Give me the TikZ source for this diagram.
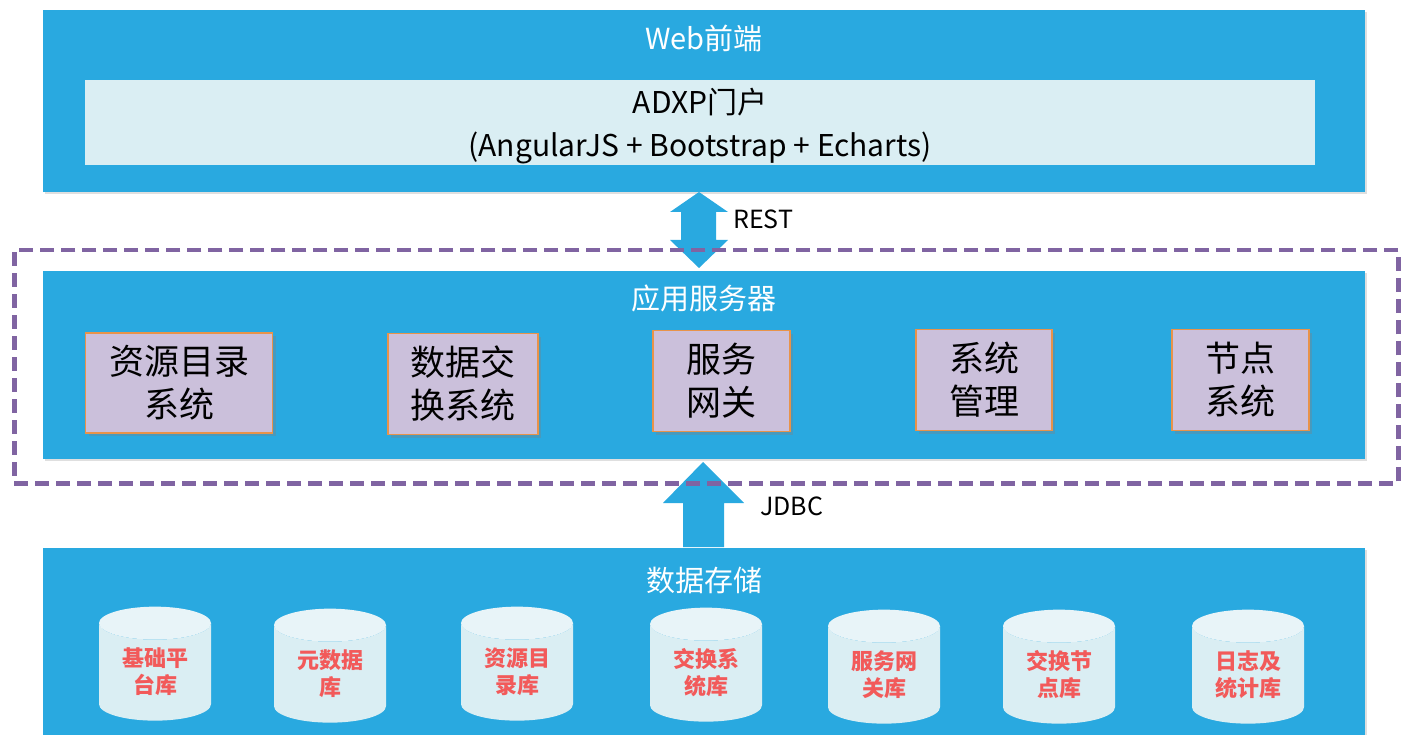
\documentclass[tikz,border=0pt]{standalone}
\usepackage{fontspec}
\setmainfont{Noto Sans CJK SC}
\usetikzlibrary{shapes.geometric,shadows}
\definecolor{layerblue}{HTML}{29A9E0}
\definecolor{paleblue}{HTML}{DAEEF3}
\definecolor{capblue}{HTML}{E8F4F8}
\definecolor{lav}{HTML}{CBC0DB}
\definecolor{orangeedge}{HTML}{E8934A}
\definecolor{dashpurple}{HTML}{8064A2}
\definecolor{dbred}{HTML}{F25A5A}
\tikzset{
  layer/.style={fill=layerblue, draw=none, anchor=north west, inner sep=0pt,
    drop shadow={shadow xshift=1.5pt, shadow yshift=-1.5pt, opacity=0.25}},
  layertitle/.style={text=white, font=\fontsize{29}{34}\selectfont, inner sep=0pt},
  sysbox/.style={fill=lav, draw=orangeedge, line width=1.2pt, inner sep=0pt,
    align=center, font=\fontsize{35}{43}\selectfont,
    drop shadow={shadow xshift=3pt, shadow yshift=-3pt, opacity=0.35}},
  db/.style={cylinder, shape border rotate=90, aspect=0.5, draw=none,
    cylinder uses custom fill, cylinder body fill=paleblue, cylinder end fill=capblue,
    minimum width=112pt, minimum height=114pt, inner sep=0pt, align=center,
    text=dbred, font=\bfseries\fontsize{22}{27}\selectfont},
  fatarrow/.style={fill=layerblue, draw=none},
  arrowlabel/.style={anchor=west, inner sep=0pt, font=\fontsize{25}{28}\selectfont}
}
\begin{document}
\begin{tikzpicture}[x=1pt,y=-1pt]
\useasboundingbox (0,0) rectangle (1405,735);
% Web layer
\node[layer, minimum width=1322pt, minimum height=182pt] (web) at (43,10) {};
\node[layertitle] (webtitle) at (704,38) {Web前端};
\node[fill=paleblue, anchor=north west, minimum width=1230pt, minimum height=85pt, inner sep=0pt] (portal) at (85,80) {};
\node[inner sep=0pt, align=center, font=\fontsize{30}{43}\selectfont] (portaltext) at (700,126) {ADXP门户\\(AngularJS + Bootstrap + Echarts)};
% arrows
\fill[fatarrow] (699,192) -- (728,212) -- (716,212) -- (716,240) -- (728,240) -- (699,268)
  -- (670,240) -- (681,240) -- (681,212) -- (670,212) -- cycle;
\node[arrowlabel] (rest) at (733,219) {REST};
% App layer
\node[layer, minimum width=1322pt, minimum height=188pt] (app) at (43,271) {};
\node[layertitle] (apptitle) at (704,298) {应用服务器};
\node[sysbox, minimum width=187pt, minimum height=100pt] (s1) at (179,383) {资源目录\\系统};
\node[sysbox, minimum width=150pt, minimum height=101pt] (s2) at (463,384) {数据交\\换系统};
\node[sysbox, minimum width=137pt, minimum height=101pt] (s3) at (721.5,381) {服务\\网关};
\node[sysbox, minimum width=136pt, minimum height=101pt] (s4) at (984,380) {系统\\管理};
\node[sysbox, minimum width=137pt, minimum height=101pt] (s5) at (1240.5,380) {节点\\系统};
% JDBC arrow
\fill[fatarrow] (703,462) -- (744,503) -- (724,503) -- (724,547) -- (683,547) -- (683,503) -- (663,503) -- cycle;
\node[arrowlabel] (jdbc) at (760,506) {JDBC};
% dashed frame
\node[draw=dashpurple, line width=4.5pt, dash pattern=on 14pt off 7pt, anchor=north west,
  minimum width=1384pt, minimum height=233pt, inner sep=0pt] (frame) at (12,248) {};
% Storage layer
\node[layer, minimum width=1322pt, minimum height=190pt] (store) at (43,548) {};
\node[layertitle] (storetitle) at (704,580) {数据存储};
\node[db] (d1) at (155,672) {基础平\\台库};
\node[db] (d2) at (330,674) {元数据\\库};
\node[db] (d3) at (517,672) {资源目\\录库};
\node[db] (d4) at (706,673) {交换系\\统库};
\node[db] (d5) at (884,675) {服务网\\关库};
\node[db] (d6) at (1059,675) {交换节\\点库};
\node[db] (d7) at (1248,675) {日志及\\统计库};
\end{tikzpicture}
\end{document}
